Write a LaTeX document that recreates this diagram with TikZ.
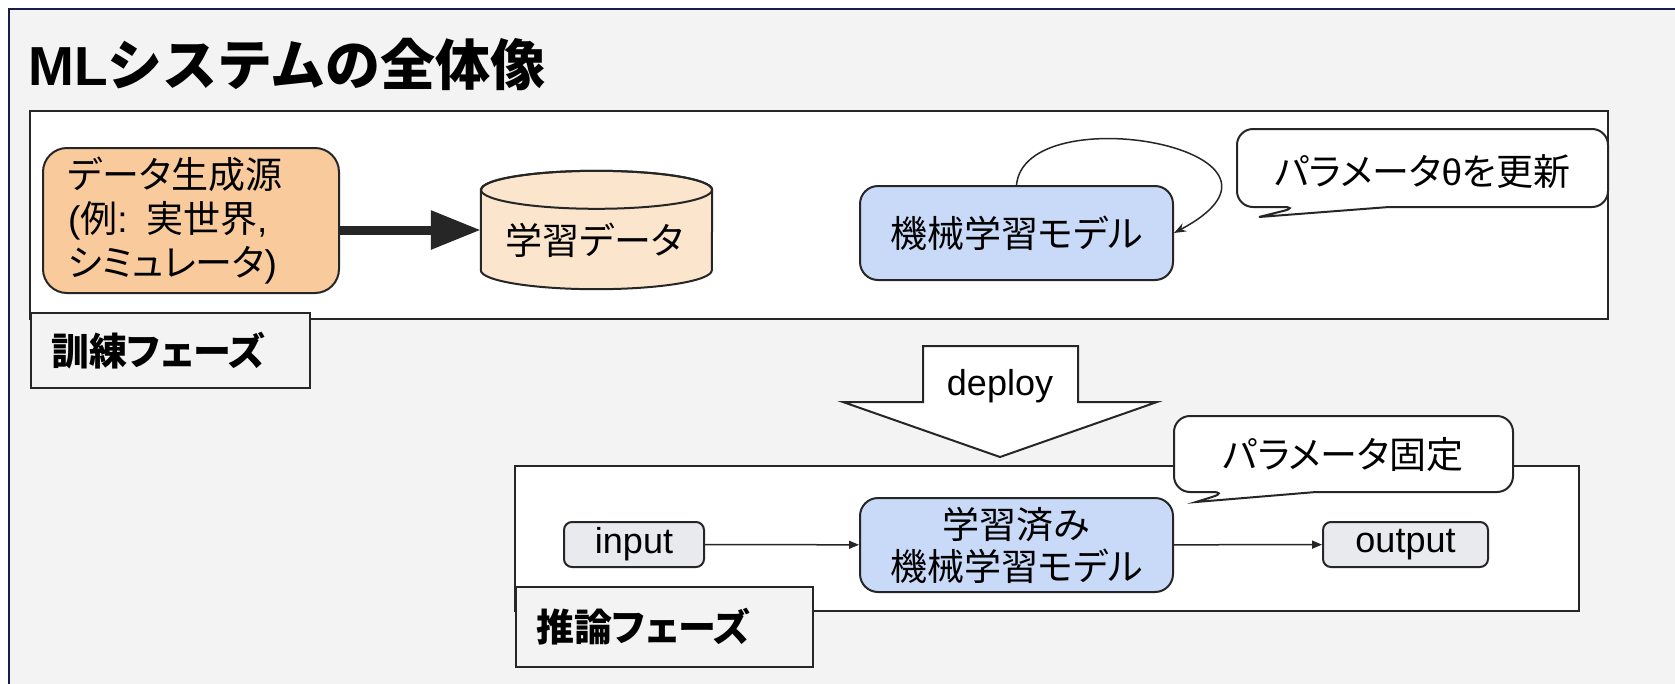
\documentclass[tikz,border=0pt]{standalone}
\usepackage{fontspec}
\setmainfont{Liberation Sans}
\newfontfamily\jp{Noto Sans CJK JP}[RawFeature=+palt]
\newfontfamily\jpwide{Noto Sans CJK JP}
\usetikzlibrary{arrows.meta,calc}

\definecolor{pagebg}{HTML}{F3F3F3}
\definecolor{framenavy}{HTML}{1B1B4B}
\definecolor{edge}{HTML}{262626}
\definecolor{srcfill}{HTML}{F9CB9C}
\definecolor{dbfill}{HTML}{FCE5CD}
\definecolor{modelfill}{HTML}{C9DAF8}
\definecolor{iofill}{HTML}{E8EAED}

\newcommand\jptext{\fontsize{37}{44}\selectfont\jp}
\newcommand\latintext{\fontsize{36}{42}\selectfont}

\tikzset{
  edgeline/.style={draw=edge, line width=2pt},
  panel/.style={edgeline, fill=white},
  phasetag/.style={edgeline, fill=pagebg, anchor=north west, inner ysep=0pt,
    inner xsep=20pt, align=left, font=\fontsize{38}{44}\selectfont\jp\bfseries},
  srcbox/.style={edgeline, fill=srcfill, rounded corners=24pt,
    minimum width=296pt, minimum height=145pt, text width=246pt,
    inner xsep=25pt, inner ysep=0pt, align=left, font=\jptext},
  modelbox/.style={edgeline, fill=modelfill, rounded corners=18pt,
    minimum width=313pt, minimum height=94pt, inner sep=0pt, align=center,
    font=\jptext},
  iobox/.style={edgeline, fill=iofill, rounded corners=8pt,
    minimum height=45pt, inner sep=0pt, font=\latintext},
  bubble/.style={edgeline, fill=white},
  bubbletext/.style={font=\jptext, inner sep=0pt},
  flow/.style={draw=edge, line width=1.5pt, -{Triangle[length=10pt,width=8pt]}},
  loopflow/.style={draw=edge, line width=1.5pt, -{Stealth[length=12pt,width=9pt]}},
  feed/.style={draw=edge, line width=9pt, -{Triangle[length=50pt,width=37pt]}},
}

\begin{document}
\begin{tikzpicture}[x=1pt,y=-1pt]
\useasboundingbox (0,0) rectangle (1675,683);
\fill[white] (0,0) rectangle (1675,683);
\clip (0,0) rectangle (1675,683);

% outer slide frame
\draw[framenavy, line width=2.5pt, fill=pagebg] (9,9) rectangle (1700,720);

\node[anchor=west, inner sep=0pt, font=\fontsize{55}{60}\selectfont\bfseries]
  (title) at (28,64) {ML{\jpwide システムの全体像}};

% ---------------- training phase ----------------
\draw[panel] (30,111) rectangle (1608,319);
\node[phasetag, minimum width=279pt, minimum height=75pt, text width=239pt]
  (trainlbl) at (30,312) {訓練フェーズ};

\node[srcbox] (src) at (191,220.5)
  {データ生成源\\{\rmfamily(}例{\rmfamily: }実世界{\rmfamily,}\\シミュレータ{\rmfamily)}};

% training data store
\node[inner sep=0pt, minimum width=231pt, minimum height=118pt] (db) at (596.5,230) {};
\path[edgeline, fill=dbfill]
  ($(db.north west)+(0,19)$) -- ($(db.south west)+(0,-19)$)
  arc[start angle=180, end angle=360, x radius=115.5pt, y radius=19pt]
  -- ($(db.north east)+(0,19)$)
  arc[start angle=0, end angle=180, x radius=115.5pt, y radius=19pt] -- cycle;
\draw[edgeline] ($(db.north)+(0,19)$) ellipse[x radius=115.5pt, y radius=19pt];
\node[font=\jptext, inner sep=0pt] (dbtext) at ($(db.center)+(-2,10)$) {学習データ};

\draw[feed] (src.east |- db.west) -- (db.west);

\node[modelbox] (m1) at (1016.5,233) {機械学習モデル};
\draw[loopflow] (m1.north) .. controls (1025,95) and (1330,150) .. (m1.east);

% update bubble
\draw[bubble] (1389,207) [rounded corners=16pt] -- (1608,207) -- (1608,129)
  -- (1237,129) -- (1237,207) -- (1299,207) [sharp corners] -- (1259,217) -- cycle;
\node[bubbletext] (upd) at (1422.5,172) {パラメータ{\rmfamily θ}を更新};

% ---------------- deploy ----------------
\draw[edgeline, fill=white] (923,346) -- (1078,346) -- (1078,402) -- (1157,402)
  -- (1000,457) -- (843,402) -- (923,402) -- cycle;
\node[font=\fontsize{36}{42}\selectfont, inner sep=0pt] (deploy) at (1000,386) {deploy};

% ---------------- inference phase ----------------
\draw[panel] (515,466) rectangle (1579,611);
\node[phasetag, minimum width=297pt, minimum height=80pt, text width=257pt]
  (inferlbl) at (515,586) {推論フェーズ};

\draw[bubble] (1316,492) [rounded corners=16pt] -- (1513,492) -- (1513,416)
  -- (1174,416) -- (1174,492) -- (1228,492) [sharp corners] -- (1196,502) -- cycle;
\node[bubbletext] (fixed) at (1343.5,455) {パラメータ固定};

\node[iobox, minimum width=140pt] (in) at (634,544.5) {input};
\node[modelbox, font=\fontsize{37}{42}\selectfont\jp] (m2) at (1016.5,545) {学習済み\\機械学習モデル};
\node[iobox, minimum width=165pt] (out) at (1405.5,544.5) {output};

\draw[flow] (in) -- (m2);
\draw[flow] (m2) -- (out);
\end{tikzpicture}
\end{document}
